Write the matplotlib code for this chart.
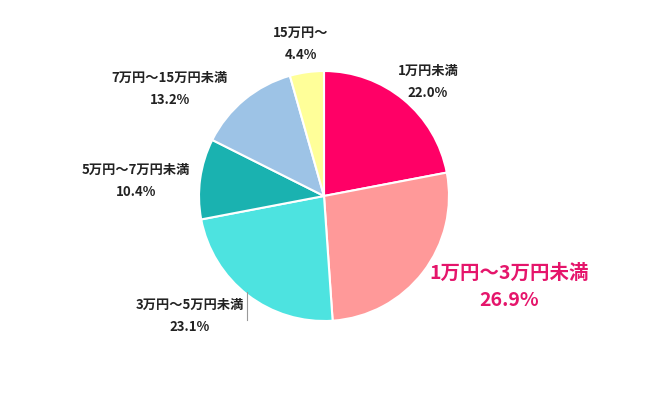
import matplotlib
matplotlib.use('Agg')
import matplotlib.pyplot as plt

plt.rcParams['font.family'] = ['Noto Sans CJK JP', 'DejaVu Sans']

# Slices, clockwise from 12 o'clock
labels = ['1万円未満', '1万円～3万円未満', '3万円～5万円未満',
          '5万円～7万円未満', '7万円～15万円未満', '15万円～']
values = [22.0, 26.9, 23.1, 10.4, 13.2, 4.4]
colors = ['#FF0066', '#FF9999', '#4DE3E0', '#1AB2B0', '#9DC3E6', '#FFFF99']

# label positions in pixel coords (x, y from top)
label_pos = [(428, 71), (509, 273), (190, 305), (136, 170), (170, 78), (301, 33)]

W, H = 650, 393
fig = plt.figure(figsize=(6.5, 3.93), dpi=100)
ax = fig.add_axes([0, 0, 1, 1])

ax.pie(values, colors=colors, startangle=90, counterclock=False,
       center=(324, H - 196), radius=125,
       wedgeprops=dict(edgecolor='white', linewidth=1.5))

# pie() resets the limits, so set them afterwards
ax.set_xlim(0, W)
ax.set_ylim(0, H)
ax.set_aspect('equal')
ax.axis('off')

for i, (lab, val) in enumerate(zip(labels, values)):
    x, y = label_pos[i]
    if i == 1:
        ax.text(x, H - y, lab, ha='center', va='center', fontsize=14,
                fontweight='bold', color='#E5156B')
        ax.text(x, H - y - 28, f'{val:.1f}%', ha='center', va='center',
                fontsize=14, fontweight='bold', color='#E5156B')
    else:
        ax.text(x, H - y, lab, ha='center', va='center', fontsize=9.5,
                fontweight='bold', color='#222222')
        ax.text(x, H - y - 22, f'{val:.1f}%', ha='center', va='center',
                fontsize=9.5, fontweight='bold', color='#222222')

# leader line for 3万円～5万円未満
ax.plot([247, 247], [H - 292, H - 320], color='#999999', linewidth=0.8)

fig.savefig('out.png', dpi=100)
